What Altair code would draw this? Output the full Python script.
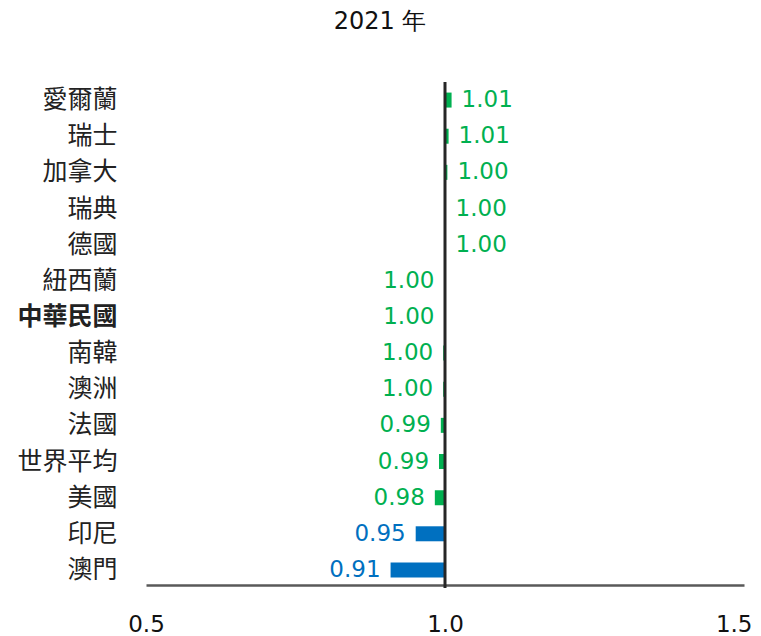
import altair as alt
import pandas as pd

countries = ["愛爾蘭", "瑞士", "加拿大", "瑞典", "德國", "紐西蘭", "中華民國",
             "南韓", "澳洲", "法國", "世界平均", "美國", "印尼", "澳門"]
values = [1.011, 1.006, 1.004, 1.001, 1.001, 0.999, 0.999,
          0.997, 0.997, 0.993, 0.990, 0.983, 0.951, 0.909]
labels = ["1.01", "1.01", "1.00", "1.00", "1.00", "1.00", "1.00",
          "1.00", "1.00", "0.99", "0.99", "0.98", "0.95", "0.91"]
x_ticks = [0.5, 1.0, 1.5]

df = pd.DataFrame({"country": countries, "value": values, "label": labels})

GREEN = "#00B050"
BLUE = "#0070C0"
NUMFONT = "DejaVu Sans"

color_cond = alt.condition("datum.value < 0.97", alt.value(BLUE), alt.value(GREEN))

y_enc = alt.Y(
    "country:N",
    sort=countries,
    title=None,
    scale=alt.Scale(paddingInner=0, paddingOuter=0),
    axis=alt.Axis(
        ticks=False, tickSize=0, domain=False, labelPadding=29,
        labelFont="Noto Sans CJK TC", labelFontSize=25, labelColor="#222222",
        labelFontWeight={"condition": {"test": "datum.value === '中華民國'", "value": "bold"}, "value": "normal"},
    ),
)

x_scale = alt.Scale(domain=[0.5, 1.5], nice=False, zero=False)
x_axis = alt.Axis(
    values=x_ticks, format=".1f", grid=False, ticks=False, tickSize=0,
    domainColor="#595959", domainWidth=2.5, offset=-3, labelFlush=False,
    labelAlign={"condition": {"test": "datum.value >= 1.5", "value": "right"}, "value": "center"},
    labelOffset={"condition": {"test": "datum.value >= 1.5", "value": 8}, "value": 0},
    labelFont=NUMFONT, labelFontSize=23, labelColor="#111111", labelPadding=28,
    title=None,
)

base = alt.Chart(df)

bars = base.mark_bar(size=15).encode(
    y=y_enc,
    x=alt.X("value:Q", scale=x_scale, axis=x_axis),
    x2=alt.datum(1.0),
    color=color_cond,
)

right_labels = base.transform_filter("datum.value > 1").mark_text(
    align="left", baseline="middle", dx=10, font=NUMFONT, fontSize=23
).encode(
    y=alt.Y("country:N", sort=countries),
    x=alt.X("value:Q"),
    text="label:N",
    color=color_cond,
)

left_labels = base.transform_filter("datum.value <= 1").mark_text(
    align="right", baseline="middle", dx=-10, font=NUMFONT, fontSize=23
).encode(
    y=alt.Y("country:N", sort=countries),
    x=alt.X("value:Q"),
    text="label:N",
    color=color_cond,
)

rule = alt.Chart(pd.DataFrame({"v": [1.0]})).mark_rule(color="#262626", strokeWidth=3).encode(
    x=alt.X("v:Q")
)

chart = alt.layer(bars, right_labels, left_labels, rule).properties(
    width=598,
    height=506,
    autosize=alt.AutoSizeParams(type="none"),
    padding={"left": 138, "top": 74, "right": 9, "bottom": 48},
    title=alt.TitleParams(
        "2021 年", font=NUMFONT, fontSize=24, fontWeight="normal", color="#111111",
        anchor="middle", dx=-65, offset=47,
    ),
).configure_view(stroke=None)

chart.save("out.html", embed_options={"renderer": "svg", "actions": False})
